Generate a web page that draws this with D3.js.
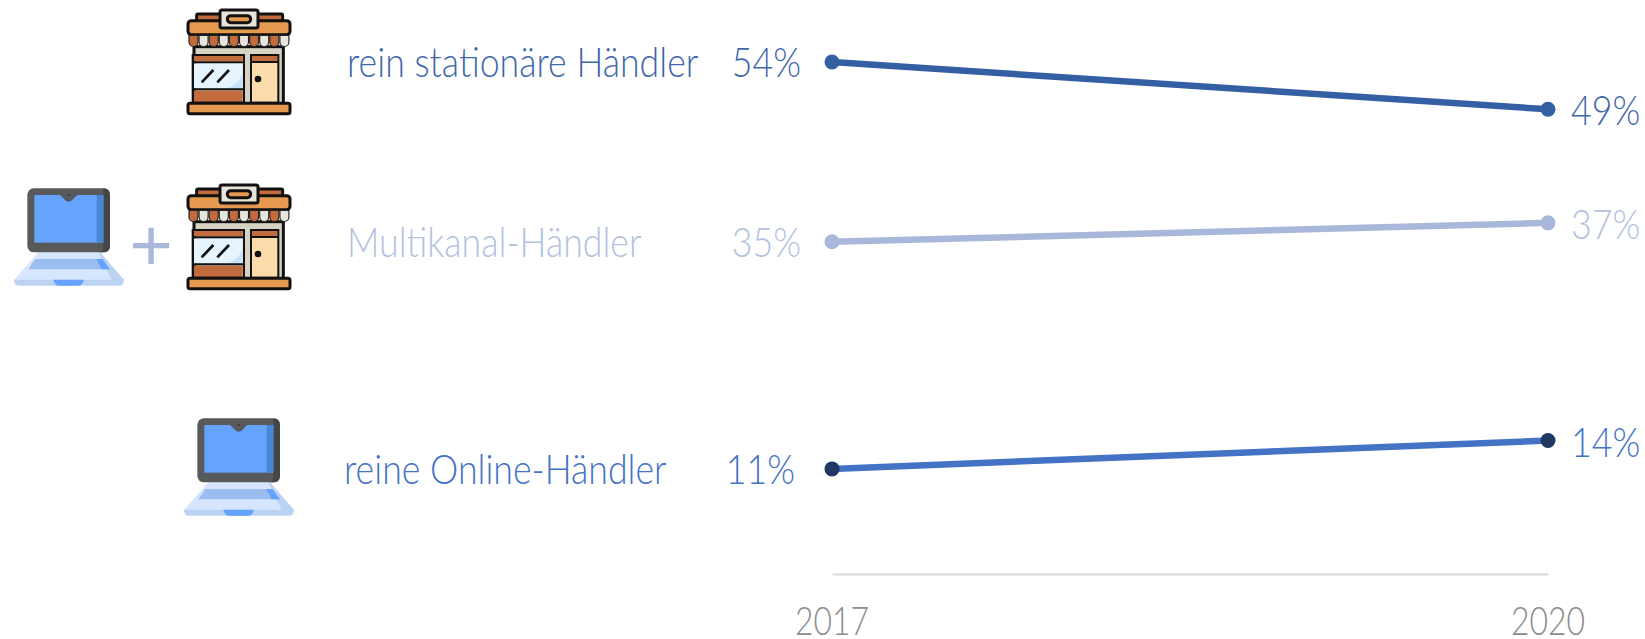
<!DOCTYPE html>
<html>
<head>
<meta charset="utf-8">
<script src="https://cdn.jsdelivr.net/npm/d3@7"></script>
<style>
html, body { margin: 0; padding: 0; background: #fff; overflow: hidden; }
text { font-family: "Lato", "Roboto", sans-serif; font-weight: 300; }
</style>
</head>
<body>
<div id="chart"></div>
<script>
// chart values
const years = [2017, 2020];
const seriesNames = ["rein stationäre Händler", "Multikanal-Händler", "reine Online-Händler"];
const values2017 = [54, 35, 11];
const values2020 = [49, 37, 14];

// styles per series
const lineColors = ["#355fa3", "#a9b7db", "#4472c4"];
const textColors = ["#3f67ab", "#b4c1e0", "#4472c4"];
const dotColors = ["#355fa3", "#a9b7db", "#1f3864"];
const nameX = [347, 347, 344];
const startLabelEnd = [801, 801, 795];

const width = 1645, height = 639;

const svg = d3.select("#chart").append("svg")
    .attr("width", width)
    .attr("height", height);

// scales
const x = d3.scalePoint().domain(years).range([832, 1548]);
const y = d3.scaleLinear().domain([0, 54]).range([573, 62]);

// condensed light text, the original font is narrower than anything installed
function label(txt, px, py, color, anchor, size, squeeze) {
    return svg.append("text")
        .attr("transform", `translate(${px},${py}) scale(${squeeze || 0.86},1)`)
        .attr("text-anchor", anchor || "start")
        .attr("fill", color)
        .style("font-size", (size || 41.5) + "px")
        .text(txt);
}

// axis: only the line and the year labels
const axis = svg.append("g")
    .attr("transform", "translate(0,574)")
    .call(d3.axisBottom(x).tickSize(0).tickPadding(0).tickFormat(""));
axis.select(".domain").attr("stroke", "#d9d9d9").attr("stroke-width", 2);
years.forEach(yr => label(yr, x(yr), 635, "#8c8c8c", "middle", 38.5, 0.83));

// slope lines and dots
seriesNames.forEach((name, i) => {
    const a = values2017[i], b = values2020[i];
    svg.append("path")
        .datum([[years[0], a], [years[1], b]])
        .attr("d", d3.line().x(d => x(d[0])).y(d => y(d[1])))
        .attr("fill", "none")
        .attr("stroke", lineColors[i])
        .attr("stroke-width", 6.5);
    svg.selectAll(".dot" + i)
        .data([[years[0], a], [years[1], b]])
        .join("circle")
        .attr("class", "dot" + i)
        .attr("cx", d => x(d[0]))
        .attr("cy", d => y(d[1]))
        .attr("r", 7.5)
        .attr("fill", dotColors[i]);

    label(name, nameX[i], y(a) + 15, textColors[i]);
    label(a + "%", startLabelEnd[i], y(a) + 15, textColors[i], "end");
    label(b + "%", x(years[1]) + 23, y(b) + 16, textColors[i]);
});

// icons, drawn at 3x and scaled down
const defs = svg.append("defs");

const shop = defs.append("g").attr("id", "shop");
function sRect(g, x0, y0, x1, y1, fill, rx, stroke) {
    g.append("rect")
        .attr("x", x0).attr("y", y0)
        .attr("width", x1 - x0).attr("height", y1 - y0)
        .attr("rx", rx || 0)
        .attr("fill", fill)
        .attr("stroke", stroke === undefined ? "#111" : stroke)
        .attr("stroke-width", 9);
}
sRect(shop, 80, 42, 338, 66, "#c26b3c", 4);
sRect(shop, 72, 140, 340, 312, "#d8d2c4", 0);
sRect(shop, 54, 62, 360, 104, "#e59a50", 10);
d3.range(10).forEach(k => {
    const sx = 57 + k * 30.3;
    shop.append("path")
        .attr("d", `M${sx},106 h27 v20 a13.5,13.5 0 0 1 -27,0 z`)
        .attr("fill", k % 2 ? "#e8e6dc" : "#c26b3c")
        .attr("stroke", "#222")
        .attr("stroke-width", 3.5);
});
sRect(shop, 150, 30, 264, 84, "#e8e4d8", 6);
sRect(shop, 172, 47, 242, 68, "#e59a50", 10);
shop.append("rect").attr("x", 72).attr("y", 168).attr("width", 146).attr("height", 15).attr("fill", "#c26b3c");
shop.append("rect").attr("x", 72).attr("y", 190).attr("width", 146).attr("height", 75).attr("fill", "#e6f4ff");
shop.append("path").attr("d", "M218,222 V265 H170 Q205,255 218,222 z").attr("fill", "#c9e2fb");
shop.append("rect").attr("x", 72).attr("y", 272).attr("width", 146).attr("height", 34).attr("fill", "#c26b3c");
shop.append("path").attr("d", "M68,165 H222 V308 H68 z M68,187 H222 M68,268 H222").attr("fill", "none").attr("stroke", "#111").attr("stroke-width", 6);
shop.append("rect").attr("x", 246).attr("y", 168).attr("width", 76).attr("height", 15).attr("fill", "#c26b3c");
shop.append("rect").attr("x", 246).attr("y", 188).attr("width", 76).attr("height", 118).attr("fill", "#fbdcaa");
shop.append("path").attr("d", "M243,165 H325 V308 H243 z M243,186 H325").attr("fill", "none").attr("stroke", "#111").attr("stroke-width", 6);
shop.append("circle").attr("cx", 264).attr("cy", 237).attr("r", 10).attr("fill", "#111");
shop.append("path").attr("d", "M95,247 L130,210 M142,247 L177,210").attr("stroke", "#111").attr("stroke-width", 8);
sRect(shop, 54, 310, 360, 341, "#e59a50", 6);

const laptop = defs.append("g").attr("id", "laptop");
laptop.append("path").attr("d", "M115,232 H300 L372,315 H42 z").attr("fill", "#d6e6ff");
laptop.append("path").attr("d", "M300,232 L372,315 H335 L295,232 z").attr("fill", "#bcd2f2");
laptop.append("path").attr("d", "M105,252 H290 L330,283 H85 z").attr("fill", "#9cbdf0");
laptop.append("path").attr("d", "M288,252 H308 L330,283 H305 z").attr("fill", "#66a3ff");
laptop.append("path").attr("d", "M42,314 H372 Q372,332 356,332 H58 Q42,332 42,314 z").attr("fill", "#bcd2f2");
laptop.append("path").attr("d", "M160,314 H252 Q248,332 234,332 H178 Q164,332 160,314 z").attr("fill", "#66a3ff");
laptop.append("rect").attr("x", 82).attr("y", 40).attr("width", 248).attr("height", 192).attr("rx", 20).attr("fill", "#58595b");
laptop.append("path").attr("d", "M310,40 Q330,40 330,60 V212 Q330,232 310,232 H296 Q310,232 310,212 z").attr("fill", "#454648");
laptop.append("rect").attr("x", 103).attr("y", 60).attr("width", 207).attr("height", 143).attr("fill", "#66a3ff");
laptop.append("rect").attr("x", 290).attr("y", 60).attr("width", 20).attr("height", 143).attr("fill", "#4a86d6");
laptop.append("path").attr("d", "M180,60 H232 L216,76 Q206,84 196,76 z").attr("fill", "#58595b");
laptop.append("circle").attr("cx", 206).attr("cy", 60).attr("r", 3).attr("fill", "#333");

const iconPlaces = [["shop", 170, 0], ["shop", 170, 175], ["laptop", 0, 175], ["laptop", 170, 405]];
svg.selectAll("use")
    .data(iconPlaces)
    .join("use")
    .attr("href", d => "#" + d[0])
    .attr("transform", d => `translate(${d[1]},${d[2]}) scale(${1 / 3})`);

// plus sign between the two icons
svg.append("text")
    .attr("x", 151).attr("y", 271)
    .attr("text-anchor", "middle")
    .attr("fill", "#a9b7db")
    .style("font-family", "Liberation Sans")
    .style("font-weight", 400)
    .style("font-size", "74px")
    .text("+");
</script>
</body>
</html>
